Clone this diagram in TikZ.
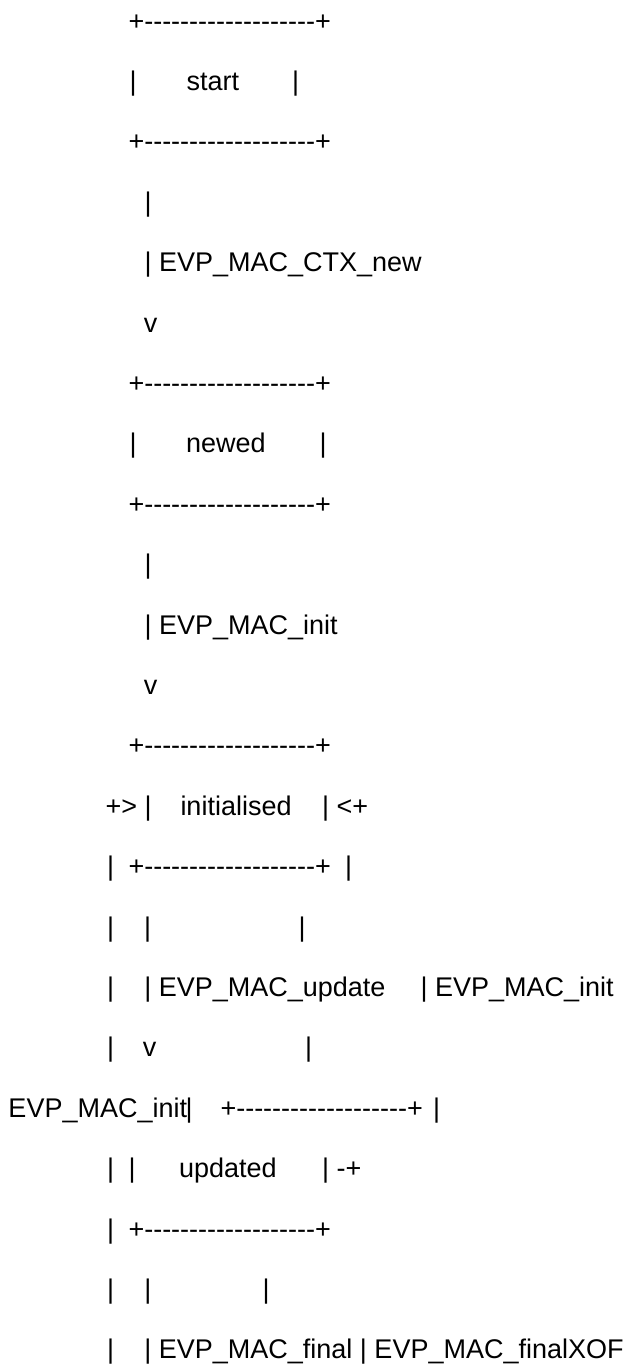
\documentclass[tikz,border=0pt]{standalone}
\usepackage{fontspec}
\newfontfamily\asciifont{Liberation Sans}[Ligatures=TeXOff]
\newcommand\boxline{+-------------------+}
\tikzset{ascii/.style={anchor=base west, inner sep=0pt, outer sep=0pt,
    font=\asciifont\fontsize{27}{30}\selectfont}}

\begin{document}
\begin{tikzpicture}[x=1pt, y=-1pt]
  \fill[white] (0,0) rectangle (619,1366);
  % start
  \node[ascii] (startTop) at (128.5,30) {\boxline};
  \node[ascii] (startL) at (129.6,90.4) {|};
  \node[ascii] (start) at (186.6,90.4) {start};
  \node[ascii] (startR) at (292,90.4) {|};
  \node[ascii] (startBot) at (128.5,150.8) {\boxline};
  \node[ascii] (ctxA) at (144.6,211.2) {|};
  \node[ascii] (ctxB) at (144.6,271.6) {| EVP\_MAC\_CTX\_new};
  \node[ascii] (ctxC) at (143.8,332) {v};
  % newed
  \node[ascii] (newTop) at (128.5,392.4) {\boxline};
  \node[ascii] (newL) at (129.6,452.8) {|};
  \node[ascii] (newed) at (186.2,452.8) {newed};
  \node[ascii] (newR) at (319.6,452.8) {|};
  \node[ascii] (newBot) at (128.5,513.2) {\boxline};
  \node[ascii] (initA) at (144.6,573.6) {|};
  \node[ascii] (initB) at (144.6,634) {| EVP\_MAC\_init};
  \node[ascii] (initC) at (143.8,694.4) {v};
  % initialised
  \node[ascii] (iniTop) at (128.5,754.8) {\boxline};
  \node[ascii] (iniL) at (105.5,815.2) {+> |};
  \node[ascii] (initialised) at (180.5,815.2) {initialised};
  \node[ascii] (iniR) at (322.2,815.2) {| <+};
  \node[ascii] (loopA) at (107.1,875.6) {|};
  \node[ascii] (iniBot) at (128.5,875.6) {\boxline};
  \node[ascii] (backA) at (345.2,875.6) {|};
  \node[ascii] (loopB) at (107.1,936) {|};
  \node[ascii] (updA) at (144,936) {|};
  \node[ascii] (backB) at (298.6,936) {|};
  \node[ascii] (loopC) at (107.1,996.4) {|};
  \node[ascii] (updB) at (144.4,996.4) {| EVP\_MAC\_update};
  \node[ascii] (backC) at (420.6,996.4) {| EVP\_MAC\_init};
  \node[ascii] (loopD) at (107.1,1056.8) {|};
  \node[ascii] (updC) at (142.8,1056.8) {v};
  \node[ascii] (backD) at (305,1056.8) {|};
  % updated
  \node[ascii] (loopLbl) at (8.5,1117.2) {EVP\_MAC\_init};
  \node[ascii] (loopE) at (185.5,1117.2) {|};
  \node[ascii] (updTop) at (220.5,1117.2) {\boxline};
  \node[ascii] (backE) at (433,1117.2) {|};
  \node[ascii] (loopF) at (107.1,1177.6) {|};
  \node[ascii] (updL) at (128.6,1177.6) {|};
  \node[ascii] (updated) at (179,1177.6) {updated};
  \node[ascii] (updR) at (322.2,1177.6) {| -+};
  \node[ascii] (loopG) at (107.1,1238) {|};
  \node[ascii] (updBot) at (128.5,1238) {\boxline};
  \node[ascii] (loopH) at (107.1,1298.4) {|};
  \node[ascii] (finA) at (144.4,1298.4) {|};
  \node[ascii] (xofA) at (262.6,1298.4) {|};
  \node[ascii] (loopI) at (107.1,1358.8) {|};
  \node[ascii] (finB) at (144.4,1358.8) {| EVP\_MAC\_final | EVP\_MAC\_finalXOF};
\end{tikzpicture}
\end{document}
